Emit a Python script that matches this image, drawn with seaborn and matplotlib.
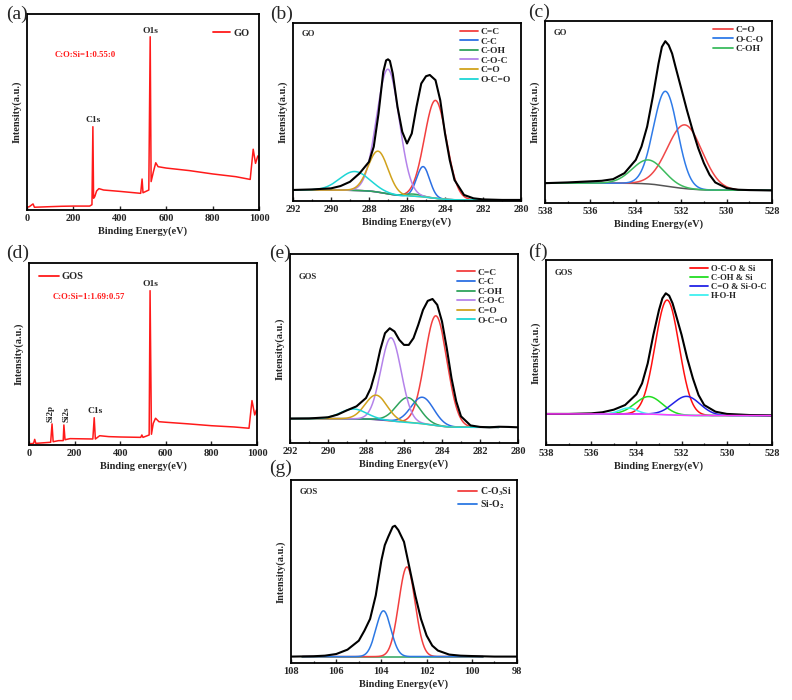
import numpy as np
import pandas as pd
import matplotlib
matplotlib.use("Agg")
import matplotlib.pyplot as plt
import seaborn as sns
from matplotlib.ticker import MultipleLocator

# ---------------- data ----------------
# (a) GO survey
survey_go_be = [0, 10, 26, 32, 100, 150, 200, 270, 280, 284, 287, 292, 300, 310, 330, 400, 490, 496, 500,
                525, 531, 535, 545, 555, 565, 600, 700, 800, 900, 962, 975, 985, 995, 1000]
survey_go_int = [1.4, 1.7, 3.1, 1.4, 1.7, 1.9, 2.0, 2.0, 2.7, 42.5, 6.0, 6.8, 9.7, 10.9, 10.2, 9.5, 8.5, 15.8, 8.8,
                 10.2, 88.4, 14.5, 19.6, 24.1, 22.1, 21.4, 20.1, 18.4, 17.0, 15.6, 31.0, 23.8, 27.6, 26.9]

# (d) GOS survey
survey_gos_be = [0, 20, 25, 30, 95, 101, 106, 130, 150, 153, 158, 180, 280, 286, 291, 310, 350, 400, 490, 495,
                 500, 527, 531, 537, 545, 555, 570, 600, 700, 800, 900, 965, 978, 990, 998, 1000]
survey_gos_int = [0.6, 0.9, 3.1, 0.9, 1.5, 11.6, 1.8, 2.4, 2.4, 11.0, 2.9, 3.5, 3.3, 15.0, 3.3, 5.1, 4.6, 4.4, 4.2, 5.5,
                  4.2, 5.5, 84.8, 5.9, 11.9, 14.7, 12.8, 12.5, 11.6, 10.6, 9.9, 9.2, 24.4, 16.5, 19.3, 18.3]

# (b) GO C1s
c1s_go_labels = ["C=C", "C-C", "C-OH", "C-O-C", "C=O", "O-C=O"]
c1s_go_center = [284.5, 285.15, 285.7, 287.0, 287.52, 288.75]
c1s_go_height = [55, 17, 1.2, 70, 23, 10.6]
c1s_go_fwhm = [1.37, 0.8, 1.0, 1.4, 1.23, 1.85]
c1s_go_bg = [0.6, 6.2]
c1s_go_data_be = [292, 291, 290, 289.5, 289, 288.5, 288, 287.75, 287.5, 287.25, 287.1, 287.0, 286.9, 286.75,
                  286.5, 286.25, 286.0, 285.75, 285.5, 285.25, 285.0, 284.8, 284.5, 284.25, 284.0, 283.75,
                  283.5, 283.0, 282.5, 282, 281, 280]
c1s_go_data_int = [6.2, 6.5, 7.1, 8.4, 10.8, 15.5, 22, 30.5, 49, 72.5, 79, 79.6, 78.7, 71.6,
                   52.9, 38.9, 32.3, 37.9, 52.9, 66, 70.1, 70.8, 67.9, 56.6, 37.9, 23,
                   11.8, 3.4, 1.5, 0.9, 0.6, 0.6]

# (c) GO O1s
o1s_go_labels = ["C=O", "O-C-O", "C-OH"]
o1s_go_center = [531.84, 532.69, 533.45]
o1s_go_height = [35, 52, 13.2]
o1s_go_fwhm = [1.8, 1.25, 1.64]
o1s_go_bg = [7.0, 10.9]
o1s_go_data_be = [538, 537, 536, 535.5, 535, 534.5, 534, 533.75, 533.5, 533.25, 533.0, 532.85, 532.7, 532.55,
                  532.4, 532.25, 532.0, 531.75, 531.5, 531.25, 531.0, 530.75, 530.5, 530.0, 529.5, 529, 528]
o1s_go_data_int = [10.9, 11.3, 11.9, 12.2, 13.1, 16.4, 23.7, 31, 42, 58.4, 76.6, 85.8, 88.9, 86.7,
                   82.1, 74.8, 63, 51.1, 40.1, 30.1, 21.9, 15.5, 11.3, 8.2, 7.3, 7.1, 6.9]

# (e) GOS C1s
c1s_gos_labels = ["C=C", "C-C", "C-OH", "C-O-C", "C=O", "O-C=O"]
c1s_gos_center = [284.32, 285.03, 285.8, 286.68, 287.47, 288.66]
c1s_gos_height = [58, 14, 13.2, 44, 12.9, 5.2]
c1s_gos_fwhm = [1.37, 1.4, 1.44, 1.26, 1.35, 1.6]
c1s_gos_bg = [8.3, 12.9]
c1s_gos_data_be = [292, 291, 290, 289.5, 289, 288.5, 288, 287.75, 287.5, 287.25, 287.0, 286.75, 286.5, 286.25,
                   286.0, 285.75, 285.5, 285.25, 285.0, 284.75, 284.5, 284.25, 284.0, 283.75, 283.5, 283.25,
                   283.0, 282.5, 282, 281.5, 281, 280.5, 280]
c1s_gos_data_int = [12.9, 13.0, 13.6, 15.0, 17.3, 19.4, 23.8, 29, 37.9, 49.3, 58.1, 60.7, 59, 54.6,
                    51.9, 51.9, 55.5, 62.5, 70.4, 75.2, 76.2, 73.1, 64.3, 50.2, 34.3, 22,
                    14.1, 9.3, 8.5, 8.3, 8.6, 8.5, 8.3]

# (f) GOS O1s
o1s_gos_labels = ["O-C-O & Si", "C-OH & Si", "C=O & Si-O-C", "H-O-H"]
o1s_gos_center = [532.64, 533.45, 531.78, 534.36]
o1s_gos_height = [62, 9.5, 10.3, 3.2]
o1s_gos_fwhm = [1.25, 1.4, 1.4, 0.9]
o1s_gos_bg = [15.9, 16.8]
o1s_gos_data_be = [538, 537, 536, 535.5, 535, 534.5, 534, 533.75, 533.5, 533.25, 533, 532.85, 532.7, 532.55,
                   532.4, 532.25, 532, 531.75, 531.5, 531.25, 531, 530.5, 530, 529, 528]
o1s_gos_data_int = [16.8, 16.8, 17.1, 17.7, 19.1, 21.6, 27.4, 33.3, 44.1, 59.5, 73, 79.3, 82, 80.7,
                    76.6, 70.3, 59.5, 46.8, 36, 27, 21.6, 18, 16.8, 16.2, 16]

# (g) GOS Si2p
si2p_gos_labels = [r"C-O$_3$Si", r"Si-O$_2$"]
si2p_gos_center = [102.87, 103.91]
si2p_gos_height = [49, 25]
si2p_gos_fwhm = [0.85, 0.78]
si2p_gos_bg = [3.5, 3.5]
si2p_gos_data_be = [108, 107, 106.5, 106, 105.5, 105, 104.75, 104.5, 104.25, 104, 103.85, 103.7, 103.5, 103.4,
                    103.25, 103.0, 102.75, 102.5, 102.25, 102, 101.75, 101.5, 101, 100.5, 100, 99, 98]
si2p_gos_data_int = [3.5, 3.7, 4.0, 4.9, 7.3, 12.2, 17.7, 24.1, 36.9, 56.1, 64.4, 68.9, 74.4, 75,
                     72.6, 66.2, 51.6, 36.9, 24.1, 15, 9.5, 6.8, 4.6, 4.0, 3.8, 3.5, 3.5]

# ---------------- style ----------------
sns.set_theme(style="ticks")
plt.rcParams["font.family"] = ["Liberation Serif", "DejaVu Serif"]
plt.rcParams["font.weight"] = "bold"
plt.rcParams["axes.labelweight"] = "bold"
plt.rcParams["mathtext.fontset"] = "stix"
plt.rcParams["mathtext.default"] = "bf"

W, H = 792, 700
fig = plt.figure(figsize=(W / 100, H / 100), dpi=100)
fig.patch.set_facecolor("white")


def make_ax(x0, x1, y0, y1):
    return fig.add_axes([x0 / W, 1 - y1 / H, (x1 - x0) / W, (y1 - y0) / H])


def style_ax(ax, xlim, major, minor, xlabel):
    ax.set_xlim(*xlim)
    ax.set_ylim(0, 100)
    ax.set_yticks([])
    lo, hi = min(xlim), max(xlim)
    ax.set_xticks(np.arange(lo, hi + major / 2, major))
    if minor:
        ax.xaxis.set_minor_locator(MultipleLocator(minor))
    ax.tick_params(axis="x", which="major", direction="in", length=3, width=1.0,
                   labelsize=7.5, pad=3, top=False)
    ax.tick_params(axis="x", which="minor", direction="in", length=1.8, width=0.9, top=False)
    plt.setp(ax.get_xticklabels(), fontweight="bold")
    for s in ax.spines.values():
        s.set_visible(True)
        s.set_linewidth(1.3)
        s.set_color("black")
    ax.set_xlabel(xlabel, fontsize=7.5, fontweight="bold", labelpad=2)
    ax.set_ylabel("Intensity(a.u.)", fontsize=7.5, fontweight="bold", labelpad=4)
    ax.set_facecolor("white")
    ax.grid(False)


def gauss(E, c, h, w):
    return h * np.exp(-4 * np.log(2) * (E - c) ** 2 / w ** 2)


def fit_components(E, centers, heights, fwhms, bg):
    peaks = [gauss(E, c, h, w) for c, h, w in zip(centers, heights, fwhms)]
    total = np.sum(peaks, axis=0)
    frac = np.cumsum(total) / np.sum(total)
    base = bg[0] + (bg[1] - bg[0]) * frac
    return [base + p for p in peaks], base


def legend(ax, fx, fy, fs, hl, spacing=0.1):
    lg = ax.legend(loc="upper left", bbox_to_anchor=(fx, fy), frameon=False, fontsize=fs,
                   handlelength=hl, handletextpad=0.3, labelspacing=spacing, borderpad=0,
                   borderaxespad=0)
    for t in lg.get_texts():
        t.set_fontweight("bold")
    for l in lg.get_lines():
        l.set_linewidth(1.3)
    return lg


def panel_label(x, y, s):
    fig.text(x / W, 1 - y / H, s, fontsize=14, fontweight="normal", ha="left", va="center")


# ---------------- (a) ----------------
ax = make_ax(27, 259, 14, 210)
sns.lineplot(x=survey_go_be, y=survey_go_int, ax=ax, color="#ff1a1a", lw=1.1, label="GO",
             estimator=None, sort=False)
style_ax(ax, (0, 1000), 200, None, "Binding Energy(eV)")
legend(ax, 0.80, 0.925, 7.5, 1.7)
ax.text(531, 89.5, "O1s", ha="center", va="bottom", fontsize=6.8, fontweight="bold")
ax.text(284, 44, "C1s", ha="center", va="bottom", fontsize=6.8, fontweight="bold")
ax.text(121, 79, "C:O:Si=1:0.55:0", ha="left", va="center", fontsize=6.3, fontweight="bold",
        color="#ff1a1a")
panel_label(6, 14, "(a)")

# ---------------- (d) ----------------
ax = make_ax(29, 257, 263, 445)
sns.lineplot(x=survey_gos_be, y=survey_gos_int, ax=ax, color="#ff1a1a", lw=1.1, label="GOS",
             estimator=None, sort=False)
style_ax(ax, (0, 1000), 200, None, "Binding energy(eV)")
legend(ax, 0.044, 0.95, 7.5, 1.9)
ax.text(531, 86.5, "O1s", ha="center", va="bottom", fontsize=6.8, fontweight="bold")
ax.text(289, 16.5, "C1s", ha="center", va="bottom", fontsize=6.8, fontweight="bold")
ax.text(93, 12.5, "Si2p", ha="center", va="bottom", rotation=90, fontsize=6.5, fontweight="bold")
ax.text(163, 12.5, "Si2s", ha="center", va="bottom", rotation=90, fontsize=6.5, fontweight="bold")
ax.text(105, 81.3, "C:O:Si=1:1.69:0.57", ha="left", va="center", fontsize=6.3, fontweight="bold",
        color="#ff1a1a")
panel_label(6, 253, "(d)")


# ---------------- high-res panels ----------------
def hr_panel(box, rng, centers, heights, fwhms, bg, labels, colors, data_be, data_int,
             sample, leg_pos, leg_fs, leg_hl, comp_rng=None, bg_color=None, bg_rng=None,
             bg_on_top=False):
    ax = make_ax(*box)
    lo, hi = min(rng), max(rng)
    E = np.linspace(lo, hi, 800)
    comps, base = fit_components(E, centers, heights, fwhms, bg)
    if comp_rng is None:
        m = np.ones_like(E, dtype=bool)
    else:
        m = (E >= comp_rng[0]) & (E <= comp_rng[1])
    if bg_color is not None and not bg_on_top:
        mb = np.ones_like(E, dtype=bool) if bg_rng is None else (E >= bg_rng[0]) & (E <= bg_rng[1])
        sns.lineplot(x=E[mb], y=base[mb], ax=ax, color=bg_color, lw=1.1, estimator=None)
    for y, lab, col in zip(comps, labels, colors):
        sns.lineplot(x=E[m], y=y[m], ax=ax, color=col, lw=1.1, label=lab, estimator=None)
    sns.lineplot(x=data_be, y=data_int, ax=ax, color="black", lw=1.5, estimator=None)
    if bg_color is not None and bg_on_top:
        sns.lineplot(x=E, y=base, ax=ax, color=bg_color, lw=1.1, estimator=None)
    style_ax(ax, rng, 2, 1, "Binding Energy(eV)")
    legend(ax, leg_pos[0], leg_pos[1], leg_fs, leg_hl)
    ax.text(0.04, sample[1], sample[0], transform=ax.transAxes, fontsize=6.3, fontweight="bold",
            ha="left", va="center")
    return ax


c1s_colors = ["#f23f3f", "#2c6fe3", "#2ea35c", "#b483ea", "#d1a21c", "#1ed6d6"]

# (b)
hr_panel((293, 521, 23, 201), (292, 280), c1s_go_center, c1s_go_height, c1s_go_fwhm, c1s_go_bg,
         c1s_go_labels, c1s_colors, c1s_go_data_be, c1s_go_data_int, ("GO", 0.94),
         (0.732, 0.975), 6.8, 1.9)
panel_label(270, 14, "(b)")

# (c)
hr_panel((545, 772, 21, 203), (538, 528), o1s_go_center, o1s_go_height, o1s_go_fwhm, o1s_go_bg,
         o1s_go_labels, ["#f04848", "#2f7be8", "#3cbb5e"], o1s_go_data_be, o1s_go_data_int,
         ("GO", 0.934), (0.74, 0.975), 6.8, 2.1, bg_color="#555555")
panel_label(528, 12, "(c)")

# (e)
hr_panel((290, 518, 254, 443), (292, 280), c1s_gos_center, c1s_gos_height, c1s_gos_fwhm, c1s_gos_bg,
         c1s_gos_labels, c1s_colors, c1s_gos_data_be, c1s_gos_data_int, ("GOS", 0.88),
         (0.732, 0.925), 6.8, 1.9, comp_rng=(281, 292))
panel_label(269, 253, "(e)")

# (f)
hr_panel((546, 772, 260, 445), (538, 528), o1s_gos_center, o1s_gos_height, o1s_gos_fwhm, o1s_gos_bg,
         o1s_gos_labels, ["#ff1010", "#22dd22", "#2222e6", "#3ff0f0"], o1s_gos_data_be,
         o1s_gos_data_int, ("GOS", 0.93), (0.637, 0.972), 6.3, 2.1, bg_color="#ff3cff",
         bg_on_top=True)
panel_label(528, 252, "(f)")

# (g)
hr_panel((291, 517, 480, 663), (108, 98), si2p_gos_center, si2p_gos_height, si2p_gos_fwhm, si2p_gos_bg,
         si2p_gos_labels, ["#f23f3f", "#2c78e3"], si2p_gos_data_be, si2p_gos_data_int,
         ("GOS", 0.934), (0.739, 0.972), 7.0, 2.0, comp_rng=(99.5, 107.5),
         bg_color="#2ea35c", bg_rng=(99.5, 107.5))
panel_label(269, 468, "(g)")

fig.savefig("out.png", dpi=100, facecolor="white")
